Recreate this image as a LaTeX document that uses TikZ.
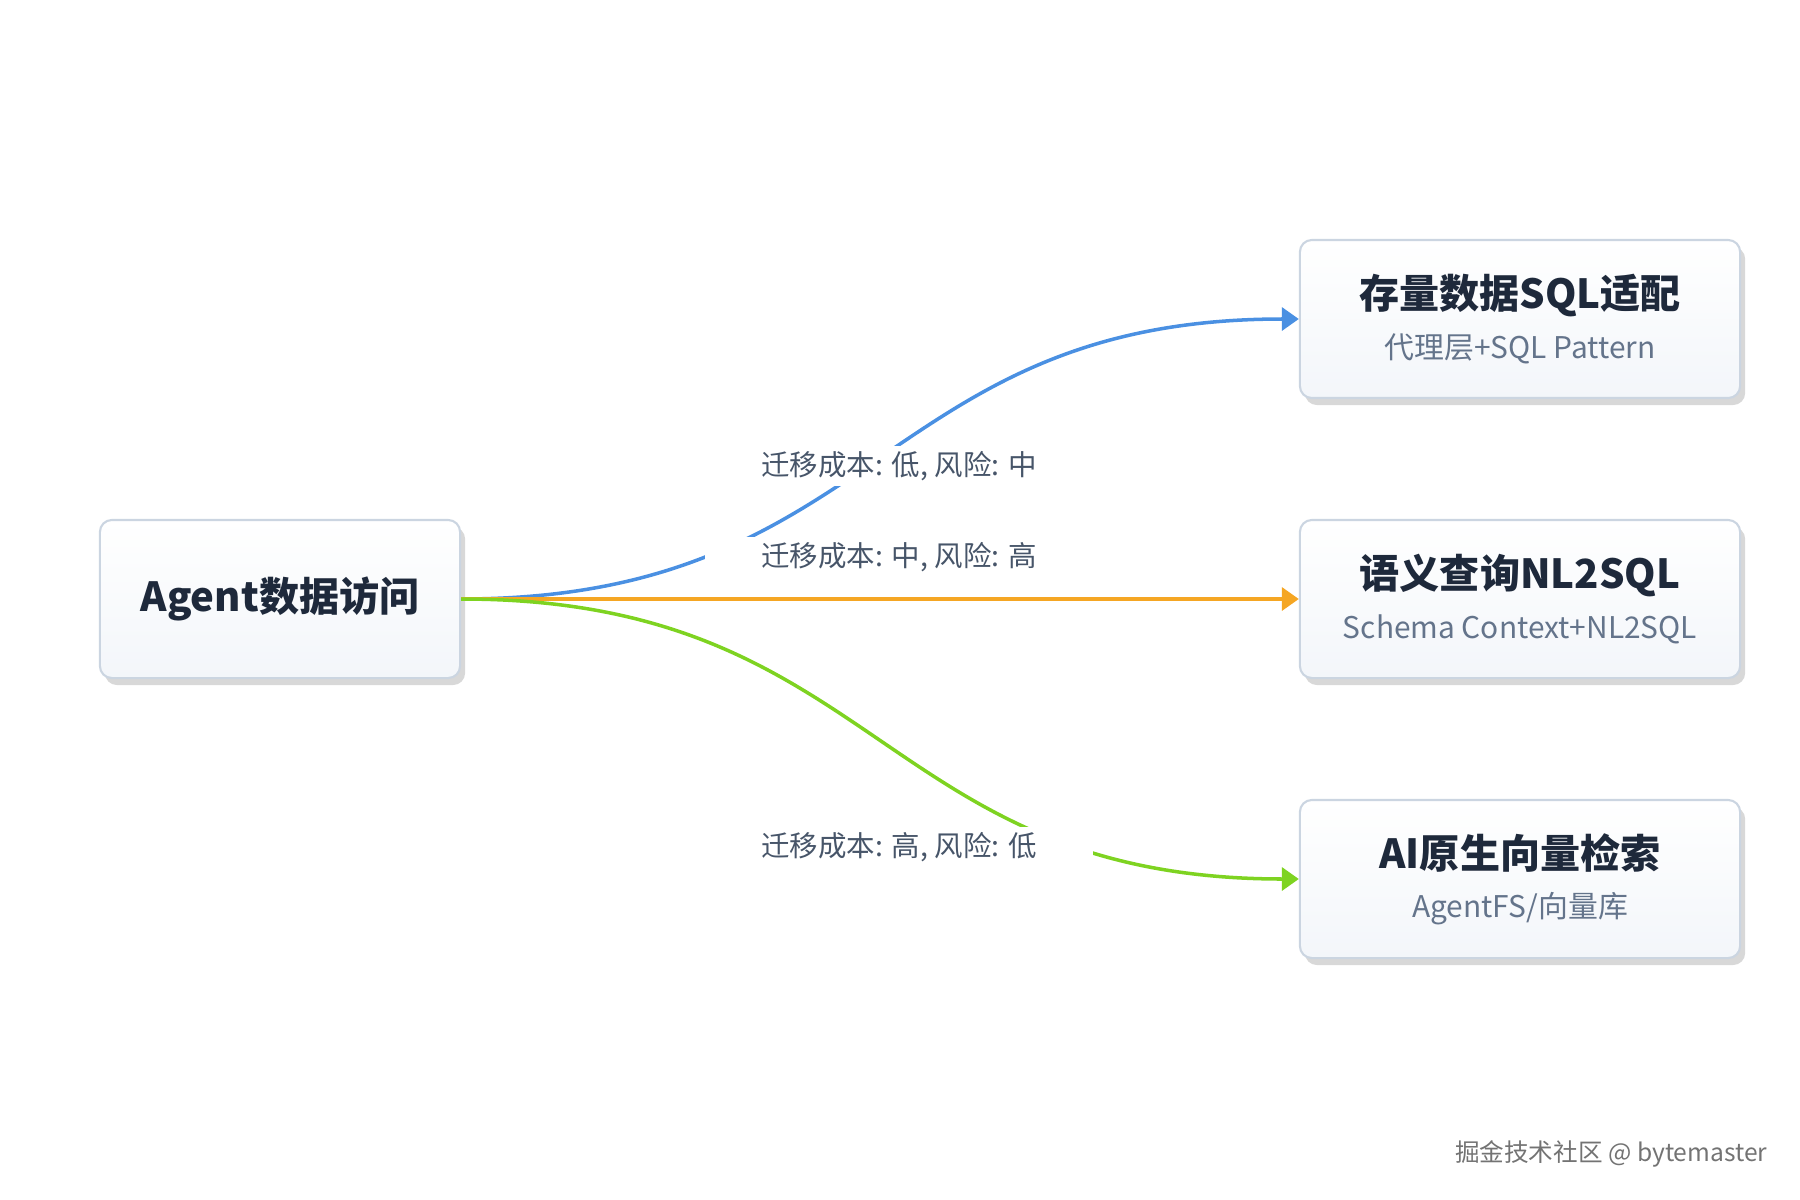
\documentclass[tikz,border=0pt]{standalone}
\usepackage{fontspec}
\setmainfont{Noto Sans CJK SC}
\usetikzlibrary{arrows.meta,shadows}
\definecolor{boxline}{HTML}{CBD5E1}
\definecolor{boxtop}{HTML}{FFFFFF}
\definecolor{boxbottom}{HTML}{F3F6FA}
\definecolor{titletext}{HTML}{1E293B}
\definecolor{subtext}{HTML}{64748B}
\definecolor{labeltext}{HTML}{475569}
\definecolor{blueline}{HTML}{4A90E2}
\definecolor{orangeline}{HTML}{F5A623}
\definecolor{greenline}{HTML}{7ED321}
\newcommand{\titlefont}{\fontsize{11.4}{13}\selectfont\bfseries\color{titletext}}
\newcommand{\subfont}{\fontsize{8.5}{10}\selectfont\color{subtext}}
\tikzset{mybox/.style={draw=boxline,line width=0.6pt,top color=boxtop,bottom color=boxbottom,
  rounded corners=0.12cm,minimum width=4.4cm,minimum height=1.58cm,align=center,
  drop shadow={shadow xshift=0.05cm,shadow yshift=-0.07cm,opacity=0.22,fill=black!70}},
mylabel/.style={fill=white,text=labeltext,minimum width=3.88cm,minimum height=0.4cm,inner sep=0pt,
  font=\fontsize{8.1}{9}\selectfont},
myedge/.style={line width=1pt,-{Triangle[length=0.17cm,width=0.23cm]}}}

\begin{document}
\begin{tikzpicture}[x=0.01cm,y=-0.01cm]
\useasboundingbox (0,0) rectangle (1800,1200);
% boxes
\node[mybox,minimum width=3.6cm] (agent) at (280,599) {{\titlefont Agent数据访问}};
\node[mybox] (legacy) at (1520,319) {{\titlefont 存量数据SQL适配}\\[2pt]{\subfont 代理层+SQL Pattern}};
\node[mybox] (semantic) at (1520,599) {{\titlefont 语义查询NL2SQL}\\[2pt]{\subfont Schema Context+NL2SQL}};
\node[mybox] (vector) at (1520,879) {{\titlefont AI原生向量检索}\\[2pt]{\subfont AgentFS/向量库}};
% edges
\draw[myedge,blueline] (agent.east) .. controls (880,599) and (880,319) .. (legacy.west);
\draw[myedge,orangeline] (agent.east) -- (semantic.west);
\draw[myedge,greenline] (agent.east) .. controls (880,599) and (880,879) .. (vector.west);
% edge labels
\node[mylabel] (lowcost) at (899,466) {迁移成本: 低, 风险: 中};
\node[mylabel] (midcost) at (899,557) {迁移成本: 中, 风险: 高};
\node[mylabel] (highcost) at (899,847) {迁移成本: 高, 风险: 低};
% watermark
\node[anchor=east,inner sep=0pt,text=black!55,font=\fontsize{7}{8}\selectfont] (mark) at (1768,1154) {掘金技术社区 @ bytemaster};
\end{tikzpicture}
\end{document}
